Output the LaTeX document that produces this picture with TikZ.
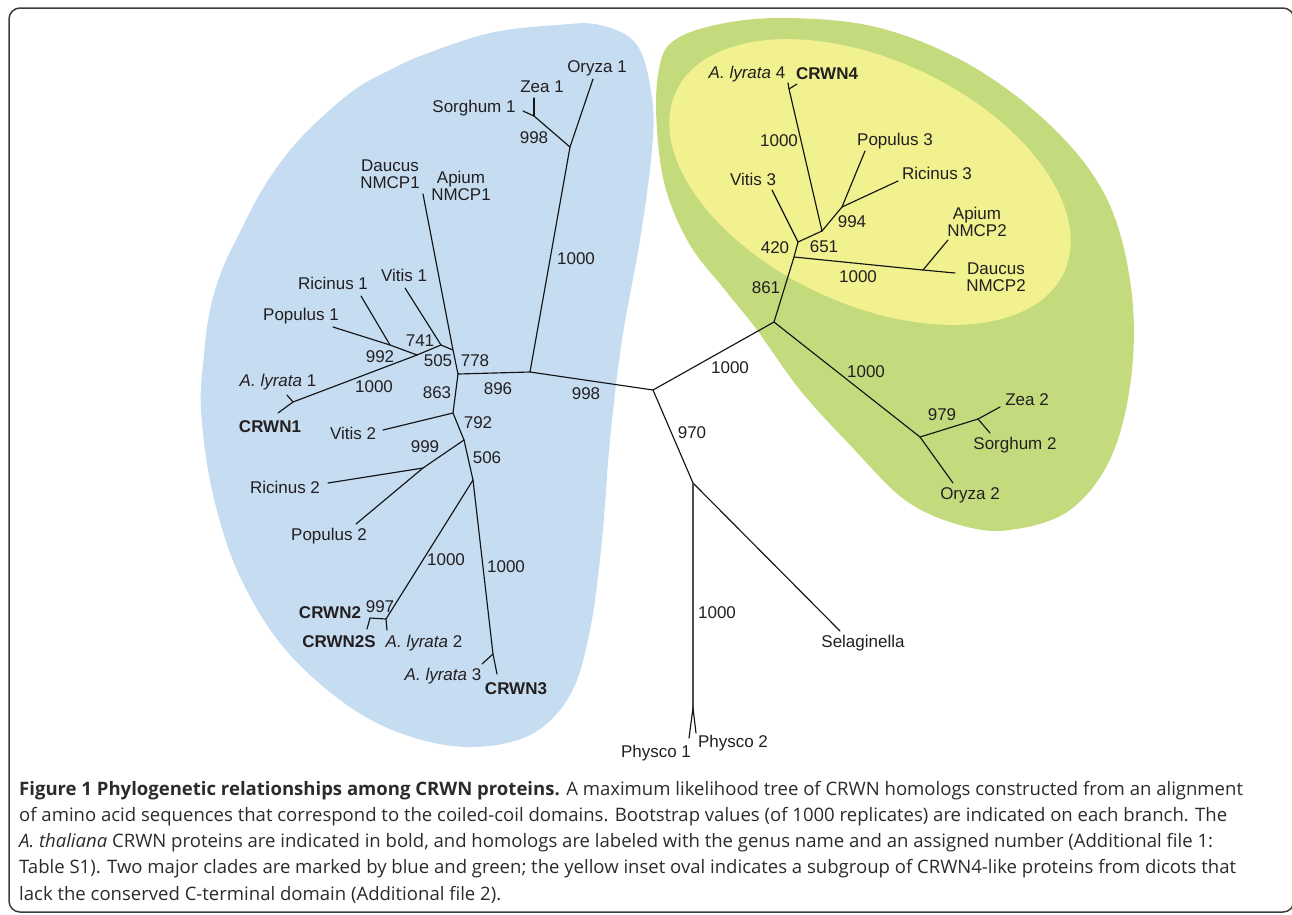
\documentclass[tikz,border=0pt]{standalone}
\usepackage{fontspec}
\newfontfamily\labfont{Liberation Sans}
\newfontfamily\capfont{Open Sans}
\newlength{\capw}
\definecolor{bluefill}{RGB}{197,220,241}
\definecolor{greenfill}{RGB}{196,219,125}
\definecolor{yellowfill}{RGB}{241,241,143}
\definecolor{txt}{RGB}{35,31,32}
\definecolor{captxt}{RGB}{45,42,43}
\definecolor{framecol}{RGB}{60,60,60}
\tikzset{
  br/.style={line width=1.15pt, draw=black!92, line cap=round},
  lab/.style={font=\labfont\fontsize{17}{16.5}\selectfont, text=txt, inner sep=0pt, align=center},
  bs/.style={font=\labfont\fontsize{17}{16.5}\selectfont, text=txt, inner sep=0pt},
  captext/.style={font=\capfont\fontsize{\capsz}{\capsz}\selectfont, text=captxt, inner sep=0pt, anchor=base west},
  framebox/.style={draw=framecol, line width=1.5pt, rounded corners=11pt}
}
\begin{document}
\settowidth{\capw}{\capfont\fontsize{10}{12}\selectfont of amino acid sequences that correspond to the coiled-coil domains. Bootstrap values (of 1000 replicates) are indicated on each branch. The}%
\pgfmathsetmacro\capsz{10*1208/\capw}%
\begin{tikzpicture}[x=1pt,y=-1pt]
\useasboundingbox (0,0) rectangle (1292,914);
\clip (0,0) rectangle (1292,914);
% frame
\draw[framebox] (9,8) rectangle (1294,912);
% clade backgrounds
\fill[bluefill] plot[smooth cycle, tension=0.6] coordinates {
 (557,25) (600,25) (637,45) (652,98) (652,150) (640,240) (622,340)
 (610,440) (602,540) (590,630) (570,695) (530,735) (467,747) (400,733)
 (340,700) (280,643) (237,570) (212,490) (201,410) (204,355) (210,310)
 (222,270) (240,232) (262,190) (290,150) (322,117) (357,88) (390,70)
 (423,55) (490,33)};
\fill[greenfill] plot[smooth cycle, tension=0.6] coordinates {
 (672,42) (720,24) (790,18) (880,28) (970,65) (1050,125) (1105,195)
 (1130,280) (1132,370) (1112,455) (1070,510) (1010,530) (960,525)
 (905,500) (850,445) (800,390) (757,330) (725,290) (690,245) (666,190)
 (657,130) (658,75)};
\fill[yellowfill, rotate around={-25:(870,182)}] (870,182) ellipse [x radius=214pt, y radius=122pt];
% internal nodes and tips
\coordinate (M) at (653,390);
\coordinate (T) at (530,372);
\coordinate (C) at (458,374);
\coordinate (B) at (453,350);
\coordinate (A) at (441,345);
\coordinate (n992) at (417,355);
\coordinate (nRP) at (390,345);
\coordinate (tric1) at (361,296);
\coordinate (tpop1) at (333,327);
\coordinate (tvit1) at (405,288);
\coordinate (tdau1) at (423,194);
\coordinate (fk1) at (293,402);
\coordinate (taly1) at (287,395);
\coordinate (tcrwn1) at (278,413);
\coordinate (D) at (453,413);
\coordinate (tvit2) at (383,430);
\coordinate (E) at (464,440);
\coordinate (n999) at (423,468);
\coordinate (tric2) at (328,483);
\coordinate (tpop2) at (356,524);
\coordinate (F) at (473,480);
\coordinate (n997) at (386,619);
\coordinate (bl) at (370,618);
\coordinate (tcrwn2) at (367,629);
\coordinate (taly2) at (387,630);
\coordinate (fk3) at (493,654);
\coordinate (taly3) at (482,664);
\coordinate (tcrwn3) at (497,674);
\coordinate (O1) at (570,147);
\coordinate (zs1) at (534,116);
\coordinate (tzea1) at (534,98);
\coordinate (tsor1) at (523,111);
\coordinate (tory1) at (593,79);
\coordinate (L) at (774,322);
\coordinate (J) at (794,257);
\coordinate (I) at (798,242);
\coordinate (G) at (822,231);
\coordinate (H) at (842,207);
\coordinate (tpop3) at (865,151);
\coordinate (tric3) at (898,181);
\coordinate (tvit3) at (772,190);
\coordinate (fk4) at (789,89);
\coordinate (taly4) at (788,83);
\coordinate (tcrwn4) at (797,84);
\coordinate (K) at (923,270);
\coordinate (tapi2) at (948,240);
\coordinate (tdau2) at (955,273);
\coordinate (N) at (920,437);
\coordinate (O) at (978,419);
\coordinate (tzea2) at (1000,407);
\coordinate (tsor2) at (990,433);
\coordinate (tory2) at (953,483);
\coordinate (P) at (693,483);
\coordinate (phf) at (693,708);
\coordinate (tphy1) at (689,738);
\coordinate (tphy2) at (696,733);
\coordinate (tsel) at (840,631);
% branches
\draw[br] (C) -- (T) -- (M);
\draw[br] (T) -- (O1) -- (tory1);
\draw[br] (O1) -- (zs1) -- (tsor1);
\draw[br] (zs1) -- (tzea1);
\draw[br] (C) -- (B) -- (tdau1);
\draw[br] (B) -- (A) -- (tvit1);
\draw[br] (A) -- (n992) -- (fk1) -- (taly1);
\draw[br] (fk1) -- (tcrwn1);
\draw[br] (n992) -- (nRP) -- (tpop1);
\draw[br] (nRP) -- (tric1);
\draw[br] (C) -- (D) -- (tvit2);
\draw[br] (D) -- (E) -- (n999) -- (tric2);
\draw[br] (n999) -- (tpop2);
\draw[br] (E) -- (F) -- (n997) -- (bl) -- (tcrwn2);
\draw[br] (n997) -- (taly2);
\draw[br] (F) -- (fk3) -- (tcrwn3);
\draw[br] (fk3) -- (taly3);
\draw[br] (M) -- (L) -- (J) -- (I) -- (tvit3);
\draw[br] (I) -- (G) -- (fk4) -- (taly4);
\draw[br] (fk4) -- (tcrwn4);
\draw[br] (G) -- (H) -- (tpop3);
\draw[br] (H) -- (tric3);
\draw[br] (J) -- (K) -- (tapi2);
\draw[br] (K) -- (tdau2);
\draw[br] (L) -- (N) -- (O) -- (tzea2);
\draw[br] (O) -- (tsor2);
\draw[br] (N) -- (tory2);
\draw[br] (M) -- (P) -- (tsel);
\draw[br, draw=black!70] (P) -- (phf);
\draw[br] (phf) -- (tphy1);
\draw[br] (phf) -- (tphy2);
% tip labels
\node[lab] (lory1) at (597,68) {Oryza 1};
\node[lab] (lzea1) at (542,87) {Zea 1};
\node[lab] (lsor1) at (474,108) {Sorghum 1};
\node[lab] (ldau1) at (390,174) {Daucus\\NMCP1};
\node[lab] (lapi1) at (461,186) {Apium\\NMCP1};
\node[lab] (lric1) at (333,283) {Ricinus 1};
\node[lab] (lvit1) at (404,275) {Vitis 1};
\node[lab] (lpop1) at (301,316) {Populus 1};
\node[lab] (laly1) at (278,382) {\textit{A. lyrata} 1};
\node[lab] (lcrwn1) at (270,427) {\textbf{CRWN1}};
\node[lab] (lvit2) at (353,433) {Vitis 2};
\node[lab] (lric2) at (285,487) {Ricinus 2};
\node[lab] (lpop2) at (329,536) {Populus 2};
\node[lab] (lcrwn2) at (330,613) {\textbf{CRWN2}};
\node[lab] (lcrwn2s) at (339,642) {\textbf{CRWN2S}};
\node[lab] (laly2) at (424,643) {\textit{A. lyrata} 2};
\node[lab] (laly3) at (443,676) {\textit{A. lyrata} 3};
\node[lab] (lcrwn3) at (516,689) {\textbf{CRWN3}};
\node[lab] (laly4) at (747,74) {\textit{A. lyrata} 4};
\node[lab] (lcrwn4) at (827,74) {\textbf{CRWN4}};
\node[lab] (lpop3) at (895,141) {Populus 3};
\node[lab] (lric3) at (937,173) {Ricinus 3};
\node[lab] (lvit3) at (753,179) {Vitis 3};
\node[lab] (lapi2) at (977,222) {Apium\\NMCP2};
\node[lab] (ldau2) at (996,277) {Daucus\\NMCP2};
\node[lab] (lzea2) at (1027,400) {Zea 2};
\node[lab] (lsor2) at (1015,445) {Sorghum 2};
\node[lab] (lory2) at (970,495) {Oryza 2};
\node[lab] (lsel) at (863,643) {Selaginella};
\node[lab] (lphy1) at (656,753) {Physco 1};
\node[lab] (lphy2) at (733,743) {Physco 2};
% bootstrap values
\node[bs] (b1) at (534,138) {998};
\node[bs] (b2) at (576,259) {1000};
\node[bs] (b3) at (420,341) {741};
\node[bs] (b4) at (380,357) {992};
\node[bs] (b5) at (438,361) {505};
\node[bs] (b6) at (475,361) {778};
\node[bs] (b7) at (374,387) {1000};
\node[bs] (b8) at (437,393) {863};
\node[bs] (b9) at (498,389) {896};
\node[bs] (b10) at (478,423) {792};
\node[bs] (b11) at (425,447) {999};
\node[bs] (b12) at (487,458) {506};
\node[bs] (b13) at (446,560) {1000};
\node[bs] (b14) at (506,567) {1000};
\node[bs] (b15) at (380,607) {997};
\node[bs] (b16) at (586,394) {998};
\node[bs] (b17) at (730,368) {1000};
\node[bs] (b18) at (692,433) {970};
\node[bs] (b19) at (717,613) {1000};
\node[bs] (b20) at (866,372) {1000};
\node[bs] (b21) at (942,415) {979};
\node[bs] (b22) at (779,141) {1000};
\node[bs] (b23) at (852,222) {994};
\node[bs] (b24) at (824,247) {651};
\node[bs] (b25) at (775,248) {420};
\node[bs] (b26) at (858,277) {1000};
\node[bs] (b27) at (766,288) {861};
% caption
\node[captext] (cap1) at (19,795) {\textbf{Figure 1 Phylogenetic relationships among CRWN proteins.} A maximum likelihood tree of CRWN homologs constructed from an alignment};
\node[captext] (cap2) at (19,821.3) {of amino acid sequences that correspond to the coiled-coil domains. Bootstrap values (of 1000 replicates) are indicated on each branch. The};
\node[captext] (cap3) at (19,847.6) {\textit{A. thaliana} CRWN proteins are indicated in bold, and homologs are labeled with the genus name and an assigned number (Additional file 1:};
\node[captext] (cap4) at (19,873.9) {Table S1). Two major clades are marked by blue and green; the yellow inset oval indicates a subgroup of CRWN4-like proteins from dicots that};
\node[captext] (cap5) at (19,900.2) {lack the conserved C-terminal domain (Additional file 2).};
\end{tikzpicture}
\end{document}
